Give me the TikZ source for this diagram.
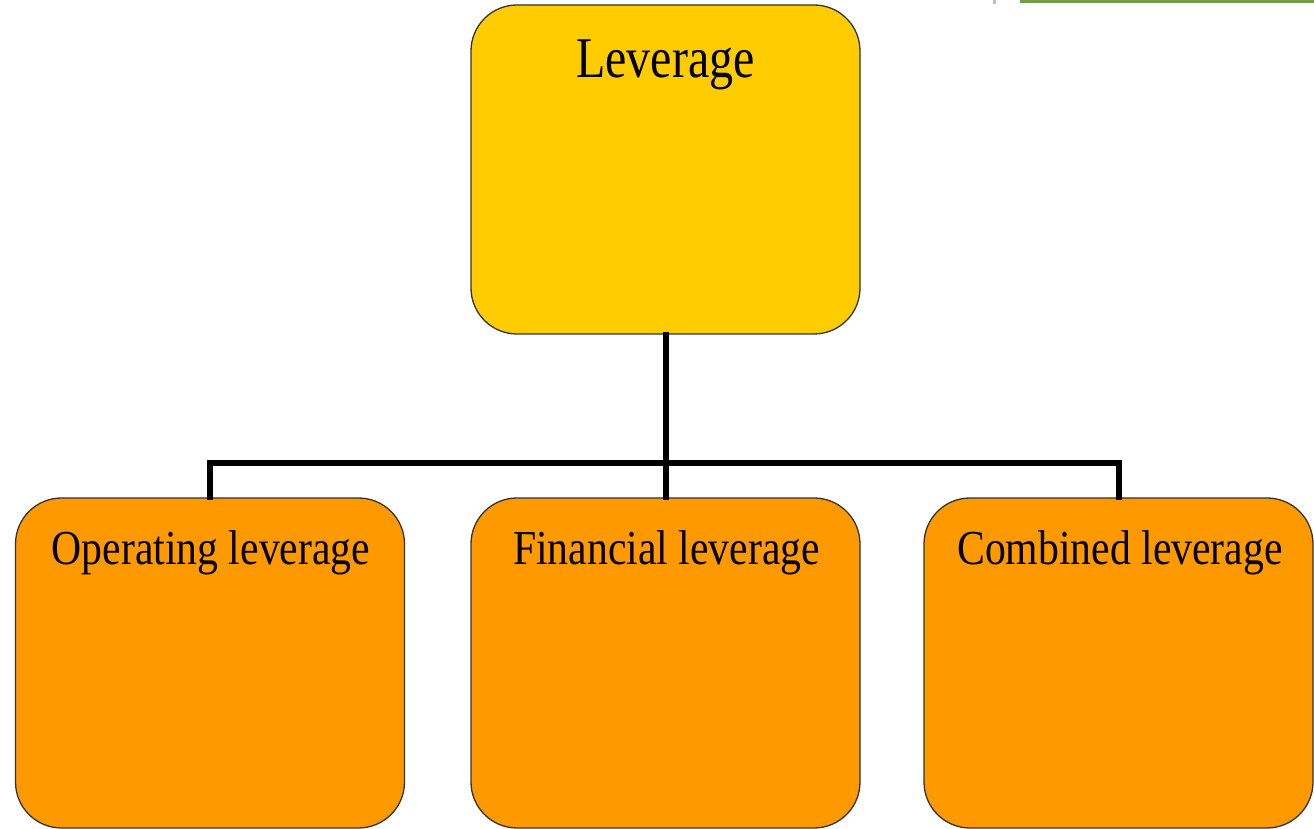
\documentclass[tikz,border=0pt]{standalone}
\usepackage{fontspec}
\usepackage{graphicx}
\setmainfont{Liberation Serif}
\definecolor{topfill}{HTML}{FFCC00}
\definecolor{subfill}{HTML}{FF9900}
\definecolor{edge}{HTML}{333333}
\definecolor{greenbar}{HTML}{70A045}
\tikzset{
  box/.style={draw=edge, line width=1.3pt, rounded corners=46pt, inner sep=0pt},
  topbox/.style={box, fill=topfill, minimum width=389pt, minimum height=329pt},
  subbox/.style={box, fill=subfill, minimum width=389pt, minimum height=330pt},
  toptext/.style={anchor=base, inner sep=0pt, font=\fontsize{48}{58}\selectfont},
  subtext/.style={anchor=base, inner sep=0pt, font=\fontsize{41.7}{50}\selectfont},
  link/.style={line width=6pt, line join=miter, line cap=rect}
}
\begin{document}
\begin{tikzpicture}[x=1pt,y=1pt]
\useasboundingbox (0,0) rectangle (1314,829);
\fill[greenbar] (1020,826) rectangle (1314,829);
\fill[black!25] (993,825) rectangle (996,829);
\node[topbox] (top) at (665.5,659.5) {};
\node[subbox] (op) at (210,166) {};
\node[subbox] (fin) at (665.5,166) {};
\node[subbox] (comb) at (1118.5,166) {};
\coordinate (j) at (665.5,366);
\draw[link] (top.south) -- (j);
\draw[link] (op.north) |- (j) -| (comb.north);
\draw[link] (fin.north) -- (j);
\node[toptext] (ttop) at (665.5,751) {\scalebox{1}[1.2]{Leverage}};
\node[subtext] (top) at (211,264) {\scalebox{1}[1.17]{Operating leverage}};
\node[subtext] (tfin) at (666.5,264) {\scalebox{1}[1.17]{Financial leverage}};
\node[subtext] (tcomb) at (1120,264) {\scalebox{1}[1.17]{Combined leverage}};
\end{tikzpicture}
\end{document}
